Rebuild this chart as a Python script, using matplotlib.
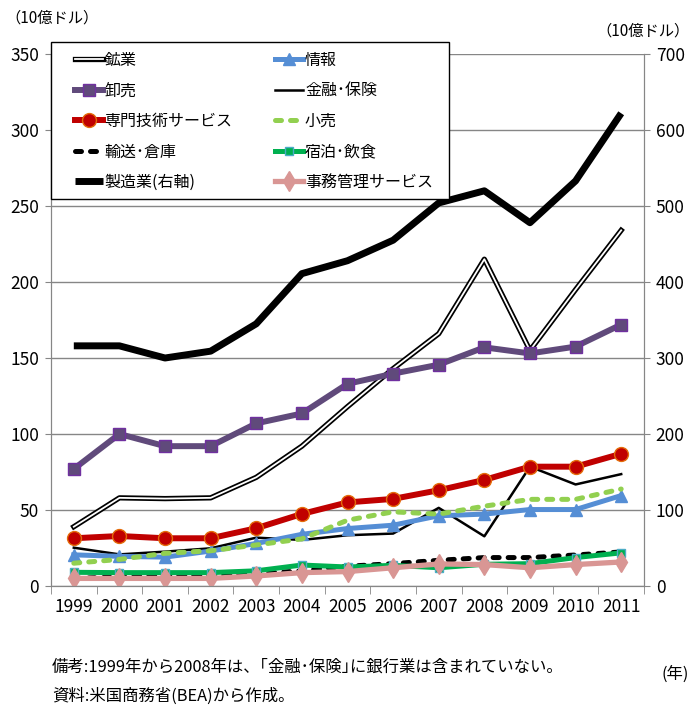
import numpy as np
import matplotlib
matplotlib.use("Agg")
import matplotlib.pyplot as plt
import matplotlib.patheffects as pe
from matplotlib.patches import Rectangle

plt.rcParams['font.family'] = ['Noto Sans CJK JP', 'DejaVu Sans']

# data (10億ドル)
years = ['1999', '2000', '2001', '2002', '2003', '2004', '2005',
         '2006', '2007', '2008', '2009', '2010', '2011']

mining = [39, 58, 57.5, 58, 71.5, 92, 118, 143, 166, 215, 155, 195, 234]
info = [20.5, 19.5, 19, 23, 28, 34, 37.8, 40, 46.2, 47.3, 50.3, 50.3, 59.5]
wholesale = [77, 100, 92, 92, 107, 113.5, 133, 139.7, 145.6, 157, 153, 157.5, 172]
finance = [25.2, 20.8, 22.6, 24.8, 31.8, 30.3, 33.4, 34.5, 51.4, 32.7, 78.5, 66.8, 73.6]
prof = [31.4, 32.9, 31.4, 31.4, 38, 47.4, 55, 57.3, 63, 69.8, 78.5, 78.5, 87]
retail = [15, 17.5, 21.5, 23.2, 27, 31, 43.3, 48.8, 47.3, 52.5, 57, 57, 63.8]
transport = [5, 6, 6.5, 7, 8, 10, 13, 14.7, 16.9, 18.7, 18.7, 20.4, 22.4]
hotel = [9, 8.8, 8.8, 8.8, 10, 13.8, 12.5, 13.6, 12, 14.3, 14.7, 18.7, 21.8]
admin = [5, 5, 5, 5, 6.6, 8.8, 9.5, 12, 14.5, 14.1, 12, 14.1, 15.8]
manuf = [316, 316, 300, 309, 345, 411, 428, 455, 504, 520, 478, 533, 622]  # 右軸

x = np.arange(len(years))
grey = '#868686'

fig = plt.figure(figsize=(6.91, 7.15), dpi=100)
ax = fig.add_axes([51/691, 1-586/715, 593/691, 532/715])
ax2 = ax.twinx()

# lines on left axis
l_mining, = ax.plot(x, mining, color='white', lw=1.3, zorder=3,
                    path_effects=[pe.Stroke(linewidth=3.8, foreground='black'), pe.Normal()])
l_fin, = ax.plot(x, finance, color='black', lw=1.8, zorder=3)
l_trans, = ax.plot(x, transport, color='black', lw=3.6, ls=(0, (1.2, 1.8)),
                   dash_capstyle='round', zorder=3)
l_hotel, = ax.plot(x, hotel, color='#00B050', lw=3.6, marker='s', ms=6,
                   mec='#4BACC6', mfc='#00B050', zorder=3)
l_admin, = ax.plot(x, admin, color='#D99694', lw=3.8, marker='d', ms=10,
                   mec='#D99694', zorder=3)
l_info, = ax.plot(x, info, color='#558ED5', lw=3.6, marker='^', ms=9,
                  mec='#558ED5', zorder=3)
l_retail, = ax.plot(x, retail, color='#92D050', lw=3.6, ls=(0, (1.2, 1.8)),
                    dash_capstyle='round', zorder=3)
l_whole, = ax.plot(x, wholesale, color='#604A7B', lw=4.3, marker='s', ms=8,
                   mec='#7030A0', zorder=3)
l_prof, = ax.plot(x, prof, color='#C00000', lw=4.3, marker='o', ms=10,
                  mec='#E46C0A', mew=1, zorder=3)

# manufacturing on right axis
l_manuf, = ax2.plot(x, manuf, color='black', lw=5, solid_capstyle='butt')

ax.set_ylim(0, 350)
ax2.set_ylim(0, 700)
ax.set_xlim(-0.5, 12.5)
ax.set_yticks(np.arange(0, 351, 50))
ax2.set_yticks(np.arange(0, 701, 100))
ax.yaxis.grid(True, color=grey, lw=1)
ax.set_axisbelow(True)

ax.set_xticks(x)
ax.set_xticklabels(years)
ax.set_xticks(np.arange(-0.5, 13, 1), minor=True)
ax.tick_params(axis='x', which='major', length=0, pad=9, labelsize=12.5)
ax.tick_params(axis='x', which='minor', length=6, color=grey, direction='out')
ax.tick_params(axis='y', length=4.5, color=grey, pad=4, labelsize=12.5)
ax2.tick_params(axis='y', length=4.5, color=grey, pad=4, labelsize=12.5)

for a in (ax, ax2):
    a.spines['top'].set_visible(False)
    for s in ('left', 'right', 'bottom'):
        a.spines[s].set_color(grey)

# legend box
box = Rectangle((51/691, 1-199/715), 398/691, 157/715, transform=fig.transFigure,
                facecolor='white', edgecolor='black', lw=1, zorder=4)
ax2.add_patch(box)
box.set_clip_on(False)

handles = [l_mining, l_whole, l_prof, l_trans, l_manuf,
           l_info, l_fin, l_retail, l_hotel, l_admin]
labels = ['鉱業', '卸売', '専門技術サービス', '輸送･倉庫', '製造業(右軸)',
          '情報', '金融･保険', '小売', '宿泊･飲食', '事務管理サービス']
leg = ax2.legend(handles, labels, ncol=2, loc='upper left',
                 bbox_to_anchor=(24/593, (586-57)/532, 358/593, 0.01), mode='expand',
                 borderaxespad=0, borderpad=0, fontsize=11.5, frameon=False,
                 handlelength=1.75, handletextpad=0.1, labelspacing=0.85,
                 columnspacing=1.0)
leg.set_zorder(5)

fig.text(5/691, 1-18/715, '（10億ドル）', fontsize=11, va='center', ha='left')
fig.text(690/691, 1-31/715, '（10億ドル）', fontsize=11, va='center', ha='right')
fig.text(52/691, 1-667/715, '備考:1999年から2008年は、｢金融･保険｣に銀行業は含まれていない。',
         fontsize=11.8, va='center', ha='left')
fig.text(52/691, 1-696/715, '資料:米国商務省(BEA)から作成。',
         fontsize=11.8, va='center', ha='left')
fig.text(689/691, 1-674/715, '(年)', fontsize=11.8, va='center', ha='right')

plt.savefig('out.png', dpi=100)
